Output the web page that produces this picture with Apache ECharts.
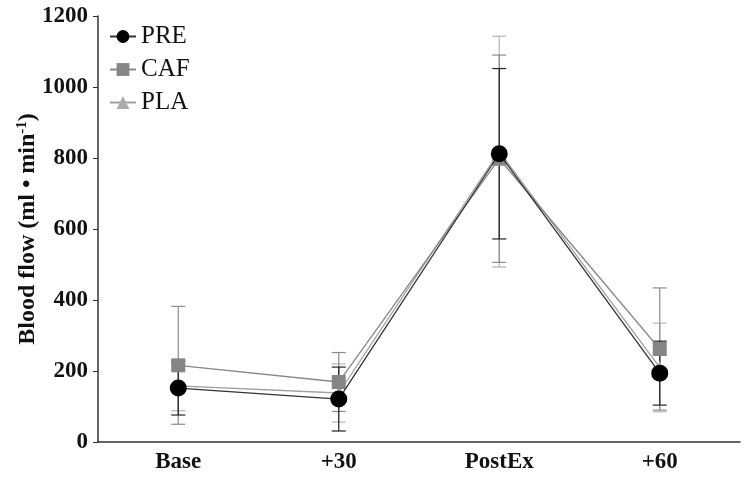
<!DOCTYPE html>
<html>
<head>
<meta charset="utf-8">
<script src="https://cdn.jsdelivr.net/npm/echarts@6/dist/echarts.min.js"></script>
<style>
  html, body { margin: 0; padding: 0; background: #fff; }
  #main { width: 749px; height: 479px; }
</style>
</head>
<body>
<div id="main"></div>
<script>
var categories = ["Base", "+30", "PostEx", "+60"];
var preMean = [152, 121, 812, 194];
var preSd = [76, 90, 240, 90];
var cafMean = [216, 169, 798, 262];
var cafSd = [166, 83, 292, 172];
var plaMean = [158, 138, 818, 210];
var plaSd = [70, 82, 325, 125];

var serif = "Liberation Serif";

function errData(mean, sd) {
  return mean.map(function (m, i) {
    return [i, m - sd[i], m + sd[i]];
  });
}

function errorItem(color) {
  return function (params, api) {
    var x = api.value(0);
    var lo = api.coord([x, api.value(1)]);
    var hi = api.coord([x, api.value(2)]);
    var w = 7;
    var st = { stroke: color, lineWidth: 1.2 };
    return {
      type: "group",
      children: [
        { type: "line", shape: { x1: lo[0], y1: lo[1], x2: hi[0], y2: hi[1] }, style: st },
        { type: "line", shape: { x1: lo[0] - w, y1: lo[1], x2: lo[0] + w, y2: lo[1] }, style: st },
        { type: "line", shape: { x1: hi[0] - w, y1: hi[1], x2: hi[0] + w, y2: hi[1] }, style: st },
      ],
    };
  };
}

var chartDom = document.getElementById("main");
var myChart = echarts.init(chartDom, null, { renderer: "canvas" });
var option;

option = {
  animation: false,
  backgroundColor: "#fff",
  grid: { left: 98, right: 9, top: 16, bottom: 37 },
  legend: {
    data: ["PRE", "CAF", "PLA"],
    orient: "vertical",
    left: 104,
    top: 19,
    itemGap: 8,
    itemWidth: 26,
    itemHeight: 16,
    textStyle: { fontFamily: serif, fontSize: 25, color: "#111" },
  },
  xAxis: {
    type: "category",
    data: categories,
    boundaryGap: true,
    axisLine: { lineStyle: { color: "#333", width: 1.5 } },
    axisTick: { alignWithLabel: true, length: 5, lineStyle: { color: "#333" } },
    axisLabel: { fontFamily: serif, fontWeight: "bold", fontSize: 23, color: "#111", margin: 9 },
  },
  yAxis: {
    type: "value",
    min: 0,
    max: 1200,
    interval: 200,
    splitLine: { show: false },
    axisLine: { show: true, lineStyle: { color: "#333", width: 1.5 } },
    axisTick: { show: true, length: 5, lineStyle: { color: "#333" } },
    axisLabel: {
      fontFamily: serif, fontWeight: "bold", fontSize: 23, color: "#111", margin: 10,
      formatter: function (v) { return String(v); },
    },
    name: "{a|Blood flow (ml • min}{s|-1}{a|)}",
    nameLocation: "middle",
    nameGap: 58,
    nameMoveOverlap: false,
    nameTextStyle: {
      rich: {
        a: { fontFamily: serif, fontWeight: "bold", fontSize: 24, color: "#111" },
        s: { fontFamily: serif, fontWeight: "bold", fontSize: 15, color: "#111", verticalAlign: "top", padding: [0, 0, 10, 0] },
      },
    },
  },
  series: [
    {
      name: "PLA",
      type: "line",
      data: plaMean,
      symbol: "triangle",
      symbolSize: 13,
      itemStyle: { color: "#ababab" },
      lineStyle: { color: "#a0a0a0", width: 1.3 },
      z: 3,
    },
    {
      name: "CAF",
      type: "line",
      data: cafMean,
      symbol: "rect",
      symbolSize: 14,
      itemStyle: { color: "#858585" },
      lineStyle: { color: "#888", width: 1.3 },
      z: 4,
    },
    {
      name: "PRE",
      type: "line",
      data: preMean,
      symbol: "circle",
      symbolSize: 17,
      itemStyle: { color: "#000" },
      lineStyle: { color: "#333", width: 1.3 },
      z: 5,
    },
    {
      name: "PLA err",
      type: "custom",
      renderItem: errorItem("#b5b5b5"),
      data: errData(plaMean, plaSd),
      z: 2,
    },
    {
      name: "CAF err",
      type: "custom",
      renderItem: errorItem("#8c8c8c"),
      data: errData(cafMean, cafSd),
      z: 2,
    },
    {
      name: "PRE err",
      type: "custom",
      renderItem: errorItem("#222"),
      data: errData(preMean, preSd),
      z: 2,
    },
  ],
};
myChart.setOption(option);
</script>
</body>
</html>
